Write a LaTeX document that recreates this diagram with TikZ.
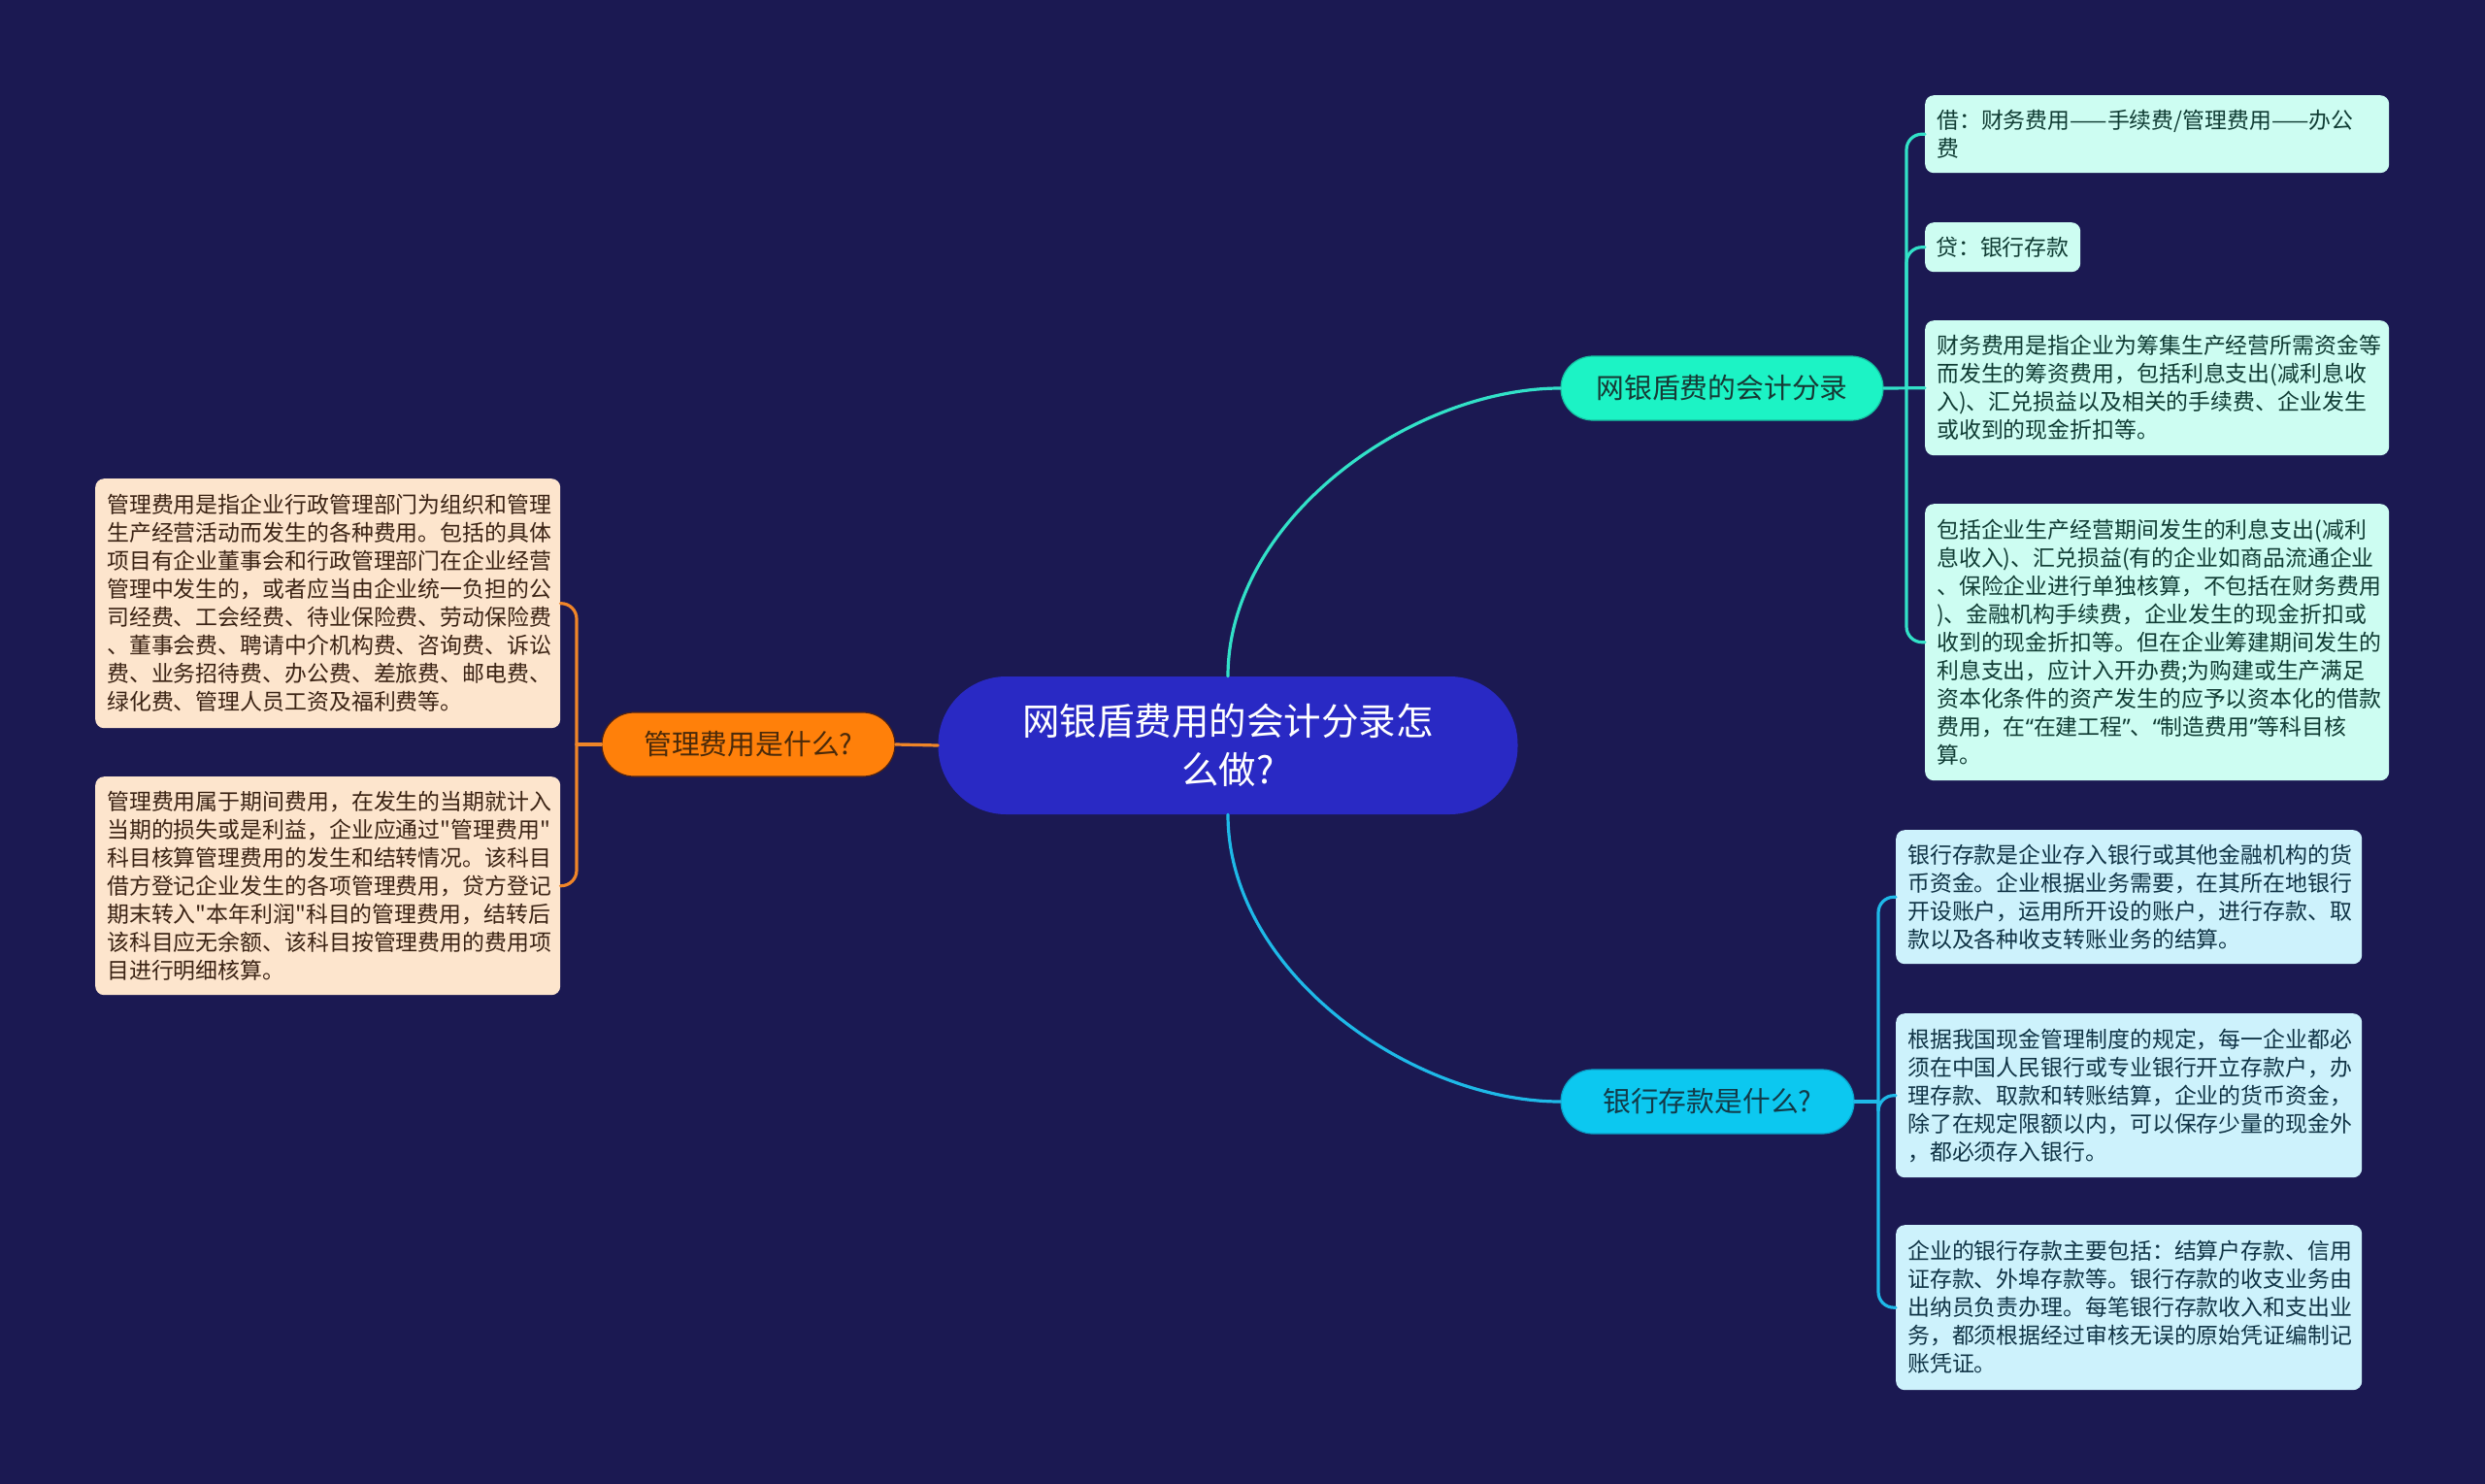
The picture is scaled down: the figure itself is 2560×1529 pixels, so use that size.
\documentclass[tikz,border=0pt]{standalone}
\usepackage{fontspec}
\setmainfont{Noto Sans CJK SC}[Ligatures=TeXOff]
\newfontfamily\latq{Noto Sans}
\newcommand{\myLq}{{\latq “}}
\newcommand{\myRq}{{\latq ”}}
\definecolor{bg}{RGB}{27,25,82}
\definecolor{ctrblue}{RGB}{41,41,196}
\definecolor{orangenode}{RGB}{255,128,10}
\definecolor{tealnode}{RGB}{28,243,197}
\definecolor{cyannode}{RGB}{12,200,240}
\definecolor{peach}{RGB}{253,229,205}
\definecolor{mint}{RGB}{205,253,242}
\definecolor{sky}{RGB}{205,242,252}
\definecolor{peachtxt}{RGB}{59,35,20}
\definecolor{minttxt}{RGB}{16,60,52}
\definecolor{skytxt}{RGB}{16,52,70}
\definecolor{orangeline}{RGB}{240,133,40}
\definecolor{tealline}{RGB}{50,225,200}
\definecolor{cyanline}{RGB}{30,185,232}
\begin{document}
\begin{tikzpicture}[x=1pt,y=-1pt,
  leaf/.style={rounded corners=9pt, anchor=north west, align=left, inner xsep=12pt, inner ysep=0pt, font=\fontsize{22.9}{29}\selectfont},
  peachleaf/.style={leaf, fill=peach, text=peachtxt},
  mintleaf/.style={leaf, fill=mint, text=minttxt},
  skyleaf/.style={leaf, fill=sky, text=skytxt},
  topic/.style={rounded corners=33pt, minimum height=66pt, inner sep=0pt, line width=1.2pt, font=\fontsize{28.8}{34}\selectfont},
  conn/.style={line width=3.2pt, line cap=round},
  bracket/.style={conn, rounded corners=16pt}
]
\fill[bg] (0,0) rectangle (2560,1529);
\useasboundingbox (0,0) rectangle (2560,1529);

% central topic
\node[fill=ctrblue, text=white, rounded corners=70pt, minimum width=597pt, minimum height=142pt, inner sep=0pt, align=center, font=\fontsize{38.5}{50}\selectfont] (ctr) at (1265,768) {网银盾费用的会计分录怎\\么做?};

% main topics
\node[topic, fill=orangenode, draw={rgb,255:red,80;green,35;blue,20}, text={rgb,255:red,74;green,42;blue,10}, minimum width=302pt] (n2) at (771,767) {管理费用是什么?};
\node[topic, fill=tealnode, draw={rgb,255:red,20;green,190;blue,160}, text={rgb,255:red,22;green,58;blue,53}, minimum width=332pt] (n1) at (1774,400) {网银盾费的会计分录};
\node[topic, fill=cyannode, draw={rgb,255:red,10;green,160;blue,200}, text={rgb,255:red,18;green,58;blue,72}, minimum width=302pt] (n3) at (1759,1135) {银行存款是什么?};

% left leaves
\node[peachleaf, text width=455pt, minimum height=257pt] (l1) at (98,493) {管理费用是指企业行政管理部门为组织和管理\\生产经营活动而发生的各种费用。包括的具体\\项目有企业董事会和行政管理部门在企业经营\\管理中发生的，或者应当由企业统一负担的公\\司经费、工会经费、待业保险费、劳动保险费\\、董事会费、聘请中介机构费、咨询费、诉讼\\费、业务招待费、办公费、差旅费、邮电费、\\绿化费、管理人员工资及福利费等。};
\node[peachleaf, text width=455pt, minimum height=225pt] (l2) at (98,800) {管理费用属于期间费用，在发生的当期就计入\\当期的损失或是利益，企业应通过"管理费用"\\科目核算管理费用的发生和结转情况。该科目\\借方登记企业发生的各项管理费用，贷方登记\\期末转入"本年利润"科目的管理费用，结转后\\该科目应无余额、该科目按管理费用的费用项\\目进行明细核算。};

% right upper leaves
\node[mintleaf, text width=454pt, minimum height=80pt] (r1) at (1983,98) {借：财务费用——手续费/管理费用——办公\\费};
\node[mintleaf, inner xsep=11pt, text width=138pt, minimum height=51pt] (r2) at (1983,229) {贷：银行存款};
\node[mintleaf, text width=454pt, minimum height=139pt] (r3) at (1983,330) {财务费用是指企业为筹集生产经营所需资金等\\而发生的筹资费用，包括利息支出(减利息收\\入)、汇兑损益以及相关的手续费、企业发生\\或收到的现金折扣等。};
\node[mintleaf, text width=454pt, minimum height=285pt] (r4) at (1983,519) {包括企业生产经营期间发生的利息支出(减利\\息收入)、汇兑损益(有的企业如商品流通企业\\、保险企业进行单独核算，不包括在财务费用\\)、金融机构手续费，企业发生的现金折扣或\\收到的现金折扣等。但在企业筹建期间发生的\\利息支出，应计入开办费;为购建或生产满足\\资本化条件的资产发生的应予以资本化的借款\\费用，在\myLq 在建工程\myRq 、\myLq 制造费用\myRq 等科目核\\算。};

% right lower leaves
\node[skyleaf, text width=456pt, minimum height=138pt] (b1) at (1953,855) {银行存款是企业存入银行或其他金融机构的货\\币资金。企业根据业务需要，在其所在地银行\\开设账户，运用所开设的账户，进行存款、取\\款以及各种收支转账业务的结算。};
\node[skyleaf, text width=456pt, minimum height=169pt] (b2) at (1953,1044) {根据我国现金管理制度的规定，每一企业都必\\须在中国人民银行或专业银行开立存款户，办\\理存款、取款和转账结算，企业的货币资金，\\除了在规定限额以内，可以保存少量的现金外\\，都必须存入银行。};
\node[skyleaf, text width=456pt, minimum height=170pt] (b3) at (1953,1262) {企业的银行存款主要包括：结算户存款、信用\\证存款、外埠存款等。银行存款的收支业务由\\出纳员负责办理。每笔银行存款收入和支出业\\务，都须根据经过审核无误的原始凭证编制记\\账凭证。};

% junction points
\coordinate (lv) at (594,767);
\coordinate (tv) at (1964,400);
\coordinate (cv) at (1935,1135);

% main connectors
\draw[conn, tealline] (ctr.north) .. controls (1265,534) and (1455,400) .. (n1.west);
\draw[conn, cyanline] (ctr.south) .. controls (1265,1002) and (1455,1135) .. (n3.west);
\draw[conn, orangeline] (ctr.west) -- (n2.east);

% left bracket
\draw[conn, orangeline] (n2.west) -- (lv);
\draw[bracket, orangeline] (lv) |- (l1.east);
\draw[bracket, orangeline] (lv) |- (l2.east);

% teal bracket
\draw[conn, tealline] (n1.east) -- (r3.west);
\draw[bracket, tealline] (tv) |- (r1.west);
\draw[bracket, tealline] (tv) |- (r2.west);
\draw[bracket, tealline] (tv) |- (r4.west);

% cyan bracket
\draw[conn, cyanline] (n3.east) -- (cv);
\draw[bracket, cyanline] (cv) |- (b1.west);
\draw[bracket, cyanline] (cv) |- (b2.west);
\draw[bracket, cyanline] (cv) |- (b3.west);
\end{tikzpicture}
\end{document}
